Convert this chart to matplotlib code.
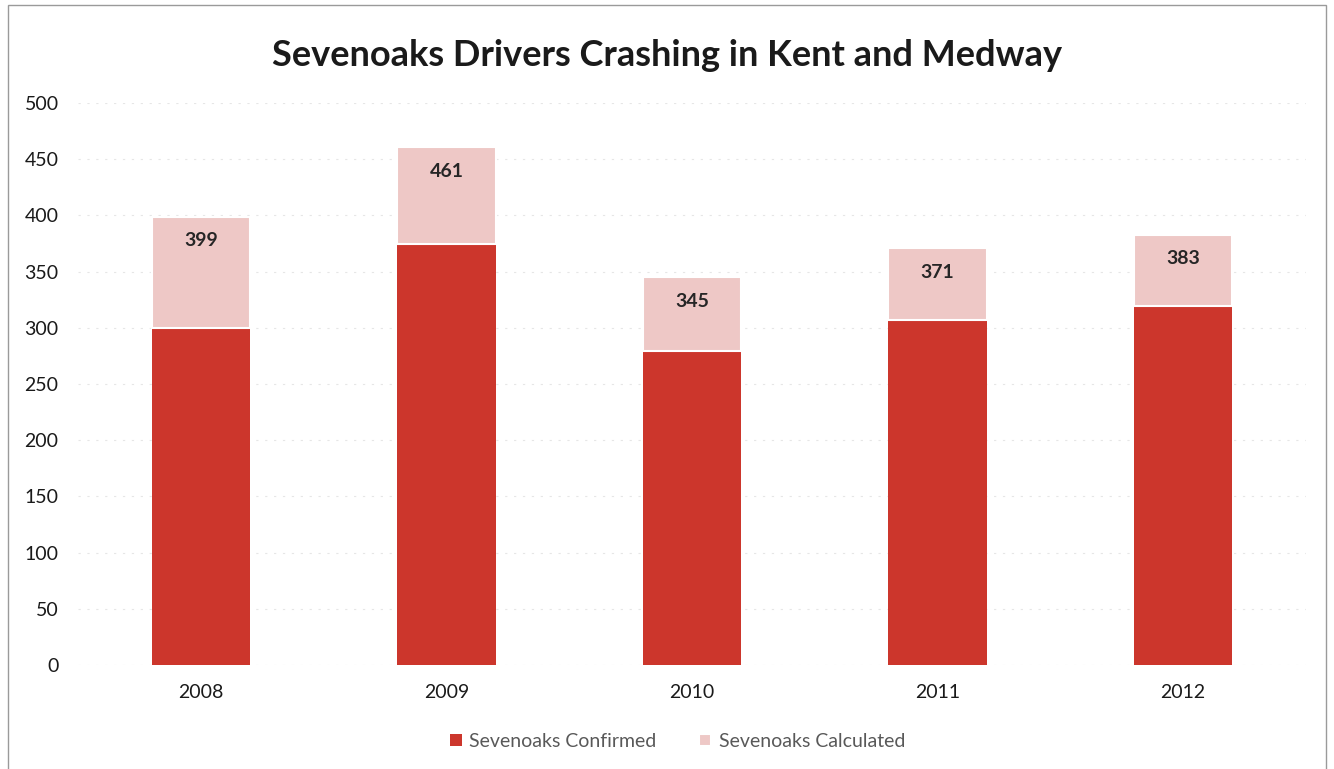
import matplotlib.pyplot as plt
from matplotlib.patches import Rectangle
import numpy as np

years = ["2008", "2009", "2010", "2011", "2012"]
confirmed = [300, 375, 279, 307, 319]
totals = [399, 461, 345, 371, 383]
calculated = [t - c for t, c in zip(totals, confirmed)]

plt.rcParams['font.family'] = ['Lato', 'DejaVu Sans']

fig = plt.figure(figsize=(13.34, 7.69), dpi=100)
ax = fig.add_axes([0.0585, 0.1352, 0.9205, 0.7308])

x = np.arange(len(years))
red = "#CC362C"
pink = "#EEC8C6"
ax.bar(x, confirmed, width=0.4, color=red, label="Sevenoaks Confirmed", zorder=2)
ax.bar(x, calculated, width=0.4, bottom=confirmed, color=pink,
       edgecolor="white", linewidth=1.5, label="Sevenoaks Calculated", zorder=2)

for xi, t in zip(x, totals):
    ax.text(xi, t - 14, str(t), ha="center", va="top", fontsize=14,
            fontweight="bold", color="#262626", zorder=3)

ax.set_xlim(-0.5, len(years) - 0.5)
ax.set_ylim(0, 500)
ax.set_yticks(range(0, 501, 50))
ax.set_xticks(x)
ax.set_xticklabels(years)
ax.tick_params(axis="both", labelsize=14, colors="#1a1a1a", length=0)
ax.tick_params(axis="y", pad=14)
ax.tick_params(axis="x", pad=14)
for s in ax.spines.values():
    s.set_visible(False)
ax.yaxis.grid(True, color="#e6e6e6", linestyle=(0, (2, 6)), linewidth=0.8, zorder=0)
ax.set_axisbelow(True)

fig.text(0.5, 0.928, "Sevenoaks Drivers Crashing in Kent and Medway",
         ha="center", va="center", fontsize=26, fontweight="bold", color="#1a1a1a")

leg = fig.legend(loc="center", bbox_to_anchor=(0.508, 0.036), ncol=2, frameon=False,
                 fontsize=14, handlelength=0.6, handleheight=0.6, columnspacing=2.2,
                 handletextpad=0.4)
for t in leg.get_texts():
    t.set_color("#595959")

fig.patches.append(Rectangle((0.006, -0.01), 0.988, 1.003, transform=fig.transFigure,
                             fill=False, edgecolor="#9a9a9a", linewidth=1.0))

fig.savefig("out.png", dpi=100)
